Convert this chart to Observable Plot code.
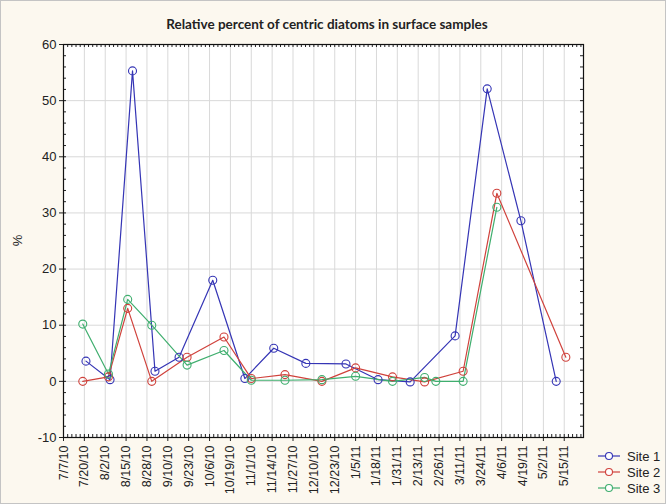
<!DOCTYPE html>
<html>
<head>
<meta charset="utf-8">
<script src="https://cdn.jsdelivr.net/npm/d3@7"></script>
<script src="https://cdn.jsdelivr.net/npm/@observablehq/plot@0.6"></script>
<style>
  html, body { margin: 0; padding: 0; background: #fcf8ef; }
  #chart { width: 666px; height: 504px; }
</style>
</head>
<body>
<div id="chart"></div>
<script>
const title = "Relative percent of centric diatoms in surface samples";
const yLabel = "%";
const seriesNames = ["Site 1", "Site 2", "Site 3"];
const seriesColors = ["#3535b5", "#d0423c", "#3fae6e"];

const xTickLabels = ["7/7/10","7/20/10","8/2/10","8/15/10","8/28/10","9/10/10","9/23/10","10/6/10","10/19/10","11/1/10","11/14/10","11/27/10","12/10/10","12/23/10","1/5/11","1/18/11","1/31/11","2/13/11","2/26/11","3/11/11","3/24/11","4/6/11","4/19/11","5/2/11","5/15/11"];
const yTicks = [-10, 0, 10, 20, 30, 40, 50, 60];
const xDomain = ["2010-07-07", "2011-05-27"];

const site1Dates = ["2010-07-21","2010-08-05","2010-08-19","2010-09-02","2010-09-17","2010-10-08","2010-10-28","2010-11-15","2010-12-05","2010-12-30","2011-01-19","2011-02-08","2011-03-08","2011-03-28","2011-04-18","2011-05-10"];
const site1Values = [3.6, 0.3, 55.3, 1.8, 4.3, 18.0, 0.5, 5.9, 3.2, 3.1, 0.3, -0.1, 8.1, 52.1, 28.6, 0];

const site2Dates = ["2010-07-19","2010-08-04","2010-08-16","2010-08-31","2010-09-22","2010-10-15","2010-11-01","2010-11-22","2010-12-15","2011-01-05","2011-01-28","2011-02-17","2011-03-13","2011-04-03","2011-05-16"];
const site2Values = [0, 0.8, 13.0, 0, 4.3, 7.9, 0.5, 1.2, 0, 2.4, 0.8, -0.1, 1.8, 33.5, 4.3];

const site3Dates = ["2010-07-19","2010-08-04","2010-08-16","2010-08-31","2010-09-22","2010-10-15","2010-11-01","2010-11-22","2010-12-15","2011-01-05","2011-01-28","2011-02-17","2011-02-24","2011-03-13","2011-04-03"];
const site3Values = [10.2, 1.3, 14.6, 10.0, 2.9, 5.5, 0.2, 0.2, 0.3, 0.9, 0, 0.7, 0, 0, 31.0];

// build table
const parseISO = d3.utcParse("%Y-%m-%d");
const parseTick = s => { const [m, d, y] = s.split("/").map(Number); return new Date(Date.UTC(2000 + y, m - 1, d)); };
const fmtTick = d => `${d.getUTCMonth() + 1}/${d.getUTCDate()}/${String(d.getUTCFullYear()).slice(2)}`;

const data = [];
[[site1Dates, site1Values], [site2Dates, site2Values], [site3Dates, site3Values]].forEach(([ds, vs], i) => {
  ds.forEach((d, j) => data.push({site: seriesNames[i], date: parseISO(d), value: vs[j]}));
});

const xTicks = xTickLabels.map(parseTick);
// minor ticks: 5 subdivisions per 13-day major interval
const minorX = [];
for (let i = 0; i < xTicks.length; i++) {
  for (let k = 0; k < 5; k++) minorX.push(new Date(+xTicks[i] + k * 13 * 86400000 / 5));
}
const minorY = d3.range(-10, 60.001, 2);

const W = 666, H = 504, mL = 63, mT = 44, mR = 83, mB = 67;
const fw = W - mL - mR, fh = H - mT - mB;

const chart = Plot.plot({
  width: W, height: H,
  marginLeft: mL, marginTop: mT, marginRight: mR, marginBottom: mB,
  style: {background: "transparent", fontFamily: "'Liberation Sans', Arial, sans-serif", fontSize: "12px", color: "#222", overflow: "visible"},
  x: {type: "utc", domain: xDomain.map(parseISO)},
  y: {domain: [-10, 60]},
  color: {domain: seriesNames, range: seriesColors},
  marks: [
    Plot.frame({fill: "white"}),
    Plot.gridX(xTicks, {stroke: "#d9d9d9", strokeOpacity: 1}),
    Plot.gridY(yTicks, {stroke: "#d9d9d9", strokeOpacity: 1}),
    // minor ticks (inward) on all sides
    Plot.tickX(minorX, {x: d => d, insetTop: fh - 3, stroke: "#222"}),
    Plot.tickX(minorX, {x: d => d, insetBottom: fh - 3, stroke: "#222"}),
    Plot.tickY(minorY, {y: d => d, insetRight: fw - 3, stroke: "#222"}),
    Plot.tickY(minorY, {y: d => d, insetLeft: fw - 3, stroke: "#222"}),
    Plot.axisY(yTicks, {anchor: "left", tickSize: 4, tickPadding: 3, fontSize: 13, label: null, color: "#222", tickFormat: d => String(d)}),
    Plot.axisX(xTicks, {anchor: "bottom", tickSize: 4, tickPadding: 4, tickRotate: -90, tickFormat: fmtTick, fontSize: 12.5, label: null, color: "#222"}),
    Plot.frame({stroke: "#111", strokeWidth: 1.2}),
    Plot.line(data, {x: "date", y: "value", z: "site", stroke: "site", strokeWidth: 1.2}),
    Plot.dot(data, {x: "date", y: "value", stroke: "site", r: 4, fill: "none", strokeWidth: 1.1})
  ]
});

const svg = d3.select(chart);
// outer border
svg.insert("rect", ":first-child")
  .attr("x", 0.5).attr("y", 0.5).attr("width", W - 1).attr("height", H - 1)
  .attr("fill", "#fcf8ef").attr("stroke", "#c4c4c4");

svg.append("text")
  .attr("x", (mL + W - mR) / 2 + 4).attr("y", 29)
  .attr("text-anchor", "middle")
  .attr("font-family", "Lato, 'Liberation Sans', sans-serif")
  .attr("font-weight", "bold").attr("font-size", 13.5).attr("fill", "#222")
  .text(title);

svg.append("text")
  .attr("transform", `translate(22,${mT + fh / 2}) rotate(-90)`)
  .attr("text-anchor", "middle")
  .attr("font-family", "'Liberation Sans', Arial, sans-serif")
  .attr("font-size", 13).attr("fill", "#222")
  .text(yLabel);

const leg = svg.append("g");
seriesNames.forEach((name, i) => {
  const y = 456 + i * 16;
  const g = leg.append("g").attr("transform", `translate(598,${y})`);
  g.append("line").attr("x1", 0).attr("x2", 22).attr("y1", 0).attr("y2", 0)
    .attr("stroke", seriesColors[i]).attr("stroke-width", 1.2);
  g.append("circle").attr("cx", 11).attr("cy", 0).attr("r", 3.5)
    .attr("fill", "white").attr("stroke", seriesColors[i]).attr("stroke-width", 1.1);
  g.append("text").attr("x", 29).attr("y", 0).attr("dy", "0.35em")
    .attr("text-anchor", "start")
    .attr("font-family", "'Liberation Sans', Arial, sans-serif")
    .attr("font-size", 13).attr("fill", "#222").text(name);
});

document.getElementById("chart").appendChild(chart);
</script>
</body>
</html>
